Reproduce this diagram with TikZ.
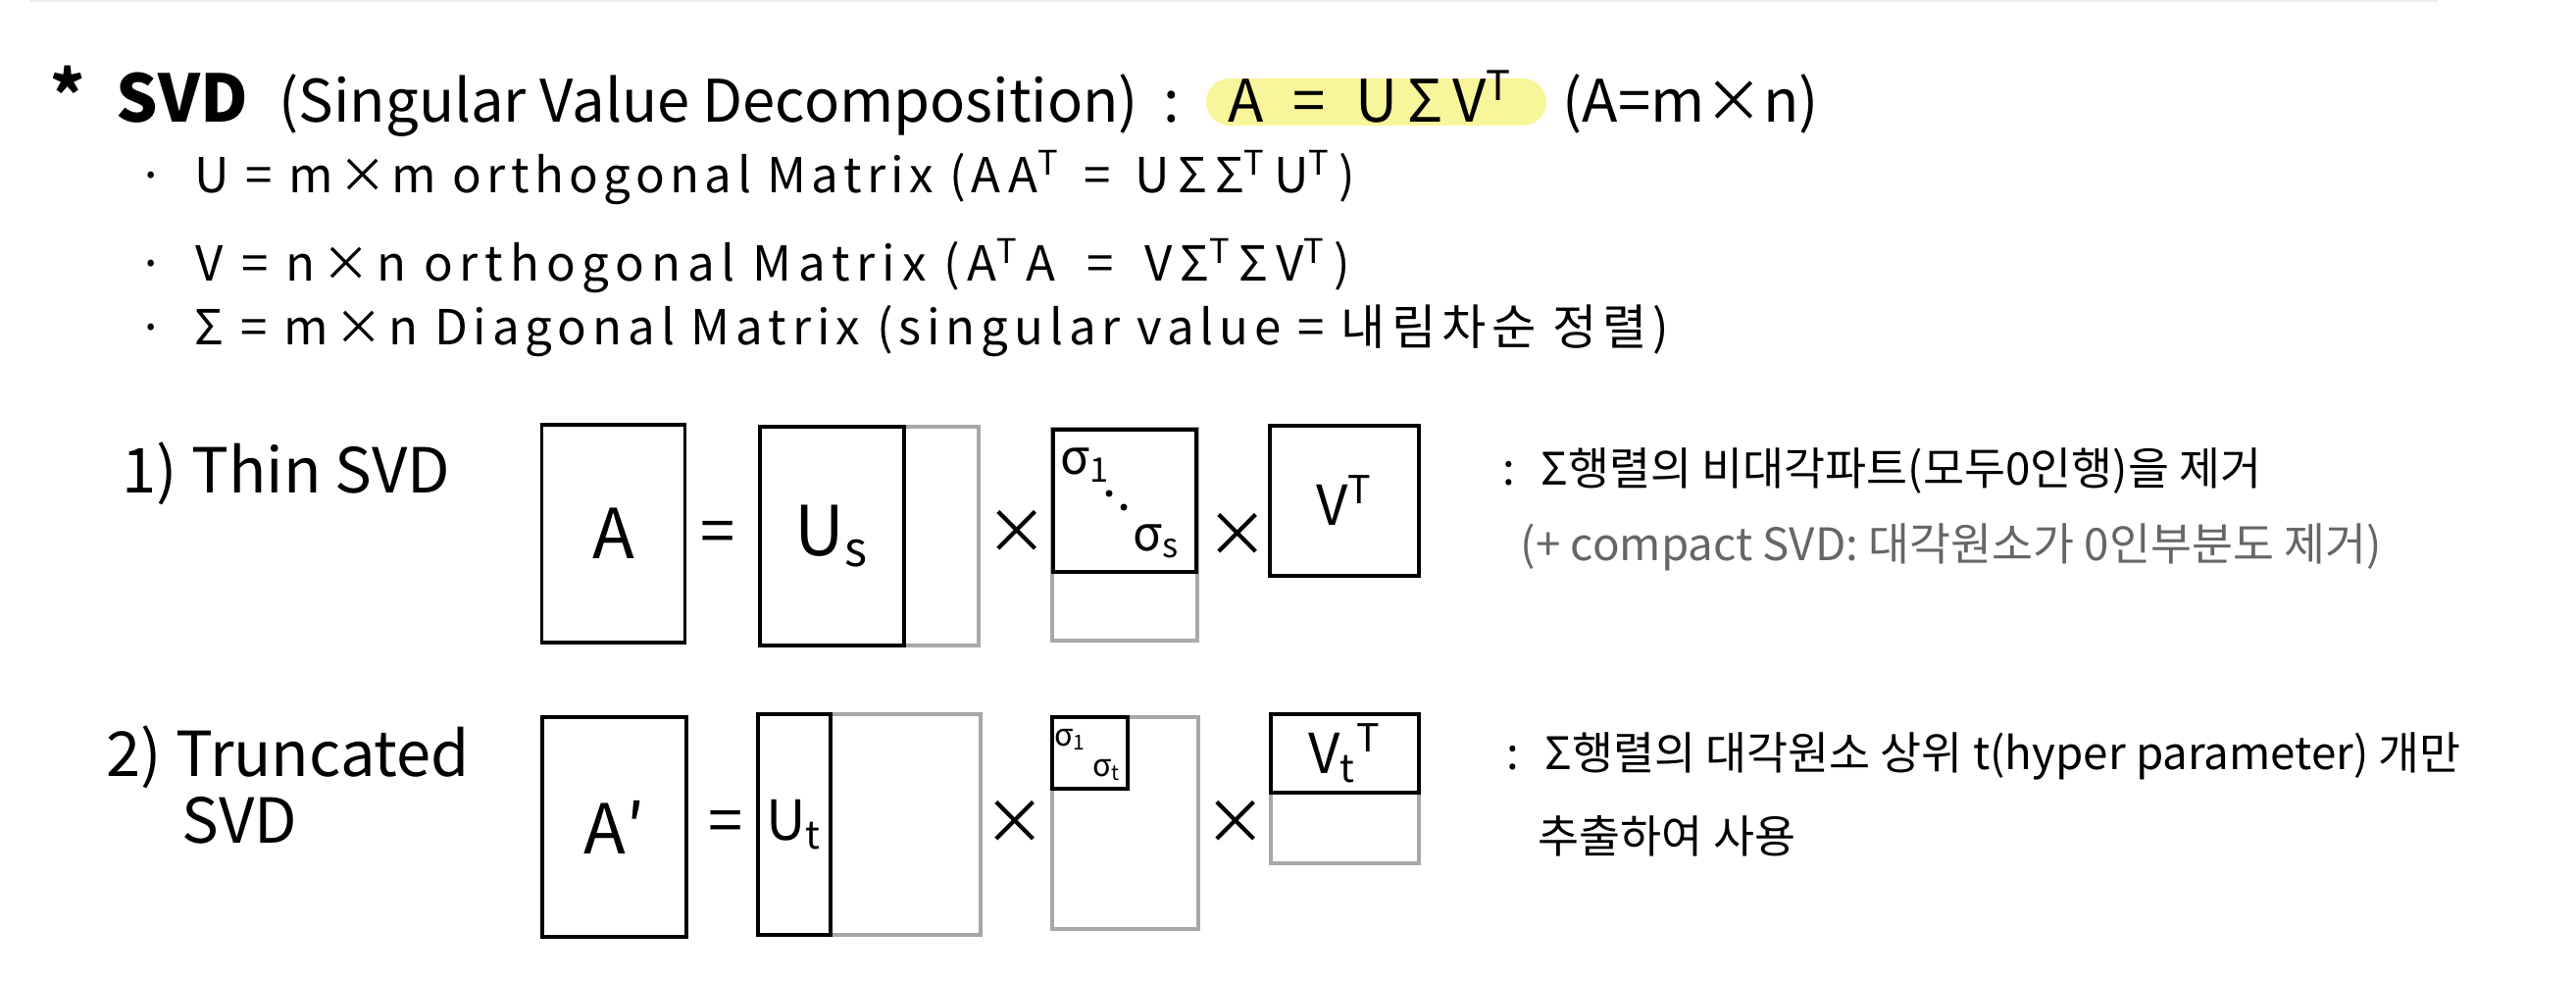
\documentclass[tikz,border=0pt]{standalone}
\usepackage{fontspec}
\setmainfont{Noto Sans CJK KR}
\newfontfamily\spacedfont[LetterSpace=11]{Noto Sans CJK KR}
\newfontfamily\widefont[LetterSpace=14]{Noto Sans CJK KR}
\newfontfamily\mediumfont[LetterSpace=12]{Noto Sans CJK KR}
\usetikzlibrary{positioning}

\definecolor{hlyellow}{HTML}{F9F59A}
\definecolor{boxgray}{HTML}{A8A8A8}
\definecolor{notegray}{HTML}{666666}
\definecolor{rulegray}{HTML}{EDEDED}

\tikzset{
  txt/.style={anchor=base west, inner sep=0pt},
  big/.style={font=\fontsize{17}{20}\selectfont},
  mid/.style={font=\spacedfont\fontsize{14}{17}\selectfont},
  midwide/.style={font=\widefont\fontsize{14}{17}\selectfont},
  midmed/.style={font=\mediumfont\fontsize{14}{17}\selectfont},
  note/.style={txt, font=\fontsize{13}{16}\selectfont},
  lbl/.style={txt, font=\fontsize{18}{22}\selectfont},
  blk/.style={draw=black, line width=0.9pt, inner sep=0pt},
  gry/.style={draw=boxgray, line width=0.9pt, inner sep=0pt},
  sym/.style={inner sep=0pt, font=\fontsize{18}{20}\selectfont},
  sig/.style={inner sep=0pt, font=\fontsize{14}{16}\selectfont},
  smallsig/.style={inner sep=0pt, font=\fontsize{9}{10}\selectfont},
  dotmark/.style={circle, fill=black, inner sep=0pt, minimum size=2pt},
}

\begin{document}
\begin{tikzpicture}
    \useasboundingbox (0,0) rectangle (26.27,-10);
    \draw[rulegray, line width=0.6pt] (0.30,-0.01) -- (24.86,-0.01);

    % definition
    \node[txt, font=\fontsize{19}{22}\selectfont\bfseries] (star) at (0.51,-1.22) {*};
    \node[txt, font=\fontsize{19}{22}\selectfont\bfseries] (svd) at (1.18,-1.25) {SVD};
    \node[txt, big] (full) at (2.84,-1.25) {(Singular Value Decomposition)};
    \node[txt, big] (colon) at (11.86,-1.25) {:};
    \node[fill=hlyellow, rounded corners=0.24cm, minimum width=3.47cm, minimum height=0.48cm, inner sep=0pt] (hl) at (14.035,-1.04) {};
    \node[txt, big] (eq) at (12.52,-1.25) {A \;=\; U\,Σ\,V\textsuperscript{T}};
    \node[txt, big] (dim) at (15.93,-1.25) {(A=m×n)};

    \node[txt, mid] (u) at (1.40,-1.97) {·\; U = m×m orthogonal Matrix (A\,A\textsuperscript{T} \,=\, U\,Σ\,Σ\textsuperscript{T}\,U\textsuperscript{T}\,)};
    \node[txt, midwide] (v) at (1.40,-2.87) {·\; V = n×n orthogonal Matrix (A\textsuperscript{T}\,A \;=\; V\,Σ\textsuperscript{T}\,Σ\,V\textsuperscript{T}\,)};
    \node[txt, midmed] (s) at (1.40,-3.52) {·\; Σ = m×n Diagonal Matrix (singular value = 내림차순 정렬)};

    % thin svd
    \node[lbl] (thin) at (1.24,-5.03) {1) Thin SVD};
    \node[blk, minimum width=1.46cm, minimum height=2.22cm, font=\fontsize{20}{24}\selectfont] (a) at (6.255,-5.44) {A};
    \node[sym] (eq1) at (7.32,-5.48) {=};
    \node[gry, minimum width=2.23cm, minimum height=2.23cm] (ug) at (8.865,-5.465) {};
    \node[blk, minimum width=1.47cm, minimum height=2.23cm, font=\fontsize{20}{24}\selectfont] (us) at (8.485,-5.465) {U\textsubscript{s}};
    \node[sym] (x1) at (10.37,-5.42) {×};
    \node[gry, minimum width=1.48cm, minimum height=2.16cm] (sg) at (11.47,-5.45) {};
    \node[blk, minimum width=1.46cm, minimum height=1.45cm] (sb) at (11.47,-5.105) {};
    \node[sig] (s1) at (11.07,-4.74) {σ\textsubscript{1}};
    \node[dotmark] (d1) at (11.31,-5.03) {};
    \node[dotmark] (d2) at (11.46,-5.17) {};
    \node[sig] (ss) at (11.79,-5.52) {σ\textsubscript{s}};
    \node[sym] (x2) at (12.62,-5.45) {×};
    \node[blk, minimum width=1.52cm, minimum height=1.53cm, font=\fontsize{16}{18}\selectfont] (vt) at (13.71,-5.105) {V\textsuperscript{T}};

    \node[note] (n1) at (15.32,-4.95) {:\; Σ행렬의 비대각파트(모두0인행)을 제거};
    \node[note, text=notegray] (n2) at (15.50,-5.72) {(+ compact SVD: 대각원소가 0인부분도 제거)};

    % truncated svd
    \node[lbl] (trunc) at (1.08,-7.92) {2) Truncated};
    \node[lbl] (trunc2) at (1.85,-8.60) {SVD};
    \node[blk, minimum width=1.47cm, minimum height=2.24cm, font=\fontsize{20}{24}\selectfont] (ap) at (6.265,-8.43) {A′};
    \node[sym] (eq2) at (7.40,-8.43) {=};
    \node[gry, minimum width=2.27cm, minimum height=2.25cm] (utg) at (8.865,-8.405) {};
    \node[blk, minimum width=0.74cm, minimum height=2.25cm, font=\fontsize{16}{18}\selectfont] (ut) at (8.10,-8.405) {U\textsubscript{t}};
    \node[sym] (x3) at (10.35,-8.38) {×};
    \node[gry, minimum width=1.49cm, minimum height=2.16cm] (stg) at (11.475,-8.39) {};
    \node[blk, minimum width=0.77cm, minimum height=0.73cm] (stb) at (11.115,-7.675) {};
    \node[smallsig] (t1) at (10.92,-7.54) {σ\textsubscript{1}};
    \node[smallsig] (tt) at (11.29,-7.85) {σ\textsubscript{t}};
    \node[sym] (x4) at (12.60,-8.38) {×};
    \node[gry, minimum width=1.51cm, minimum height=1.52cm] (vtg) at (13.715,-8.04) {};
    \node[blk, minimum width=1.51cm, minimum height=0.80cm, font=\fontsize{16}{18}\selectfont] (vtt) at (13.715,-7.68) {V\textsubscript{t}\textsuperscript{T}};

    \node[note] (n3) at (15.36,-7.85) {:\; Σ행렬의 대각원소 상위 t(hyper parameter) 개만};
    \node[note] (n4) at (15.68,-8.70) {추출하여 사용};
\end{tikzpicture}
\end{document}
